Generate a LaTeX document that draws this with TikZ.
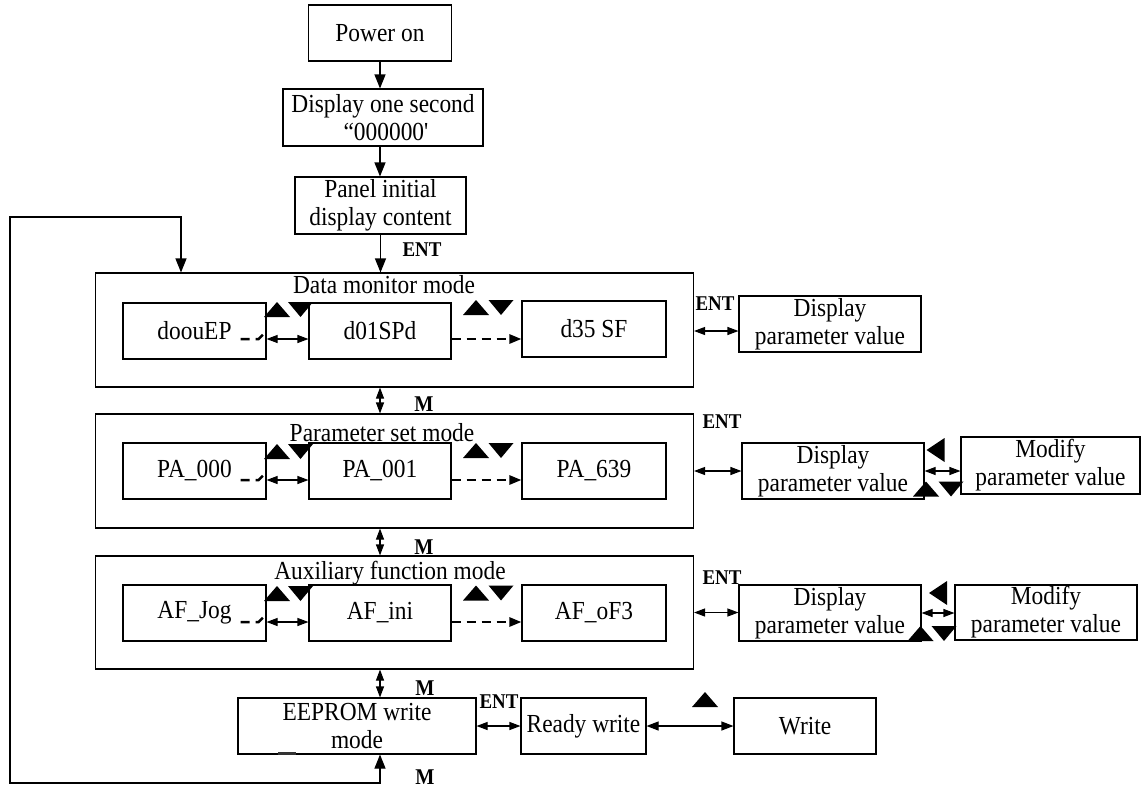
\documentclass[tikz,border=0pt]{standalone}
\usepackage{fontspec}
\setmainfont{Liberation Serif}[Ligatures=TeXOff,FakeStretch=0.9]
\usetikzlibrary{arrows.meta,calc}
\begin{document}
\begin{tikzpicture}[x=1pt,y=-1pt,line width=1.1pt,
  box/.style={draw,line width=1.1pt,inner sep=0pt,align=center,font=\fontsize{26}{28}\selectfont},
  txt/.style={inner sep=0pt,align=center,font=\fontsize{26}{28}\selectfont},
  lbl/.style={inner sep=0pt,font=\fontsize{21}{22}\selectfont\bfseries},
  mlbl/.style={inner sep=0pt,font=\fontsize{22.5}{22}\selectfont\bfseries},
  arr/.style={-{Triangle[length=14pt,width=11pt]}},
  lp/.style={{Triangle[length=14pt,width=11pt]}-{Triangle[length=14pt,width=11pt]}},
  darr/.style={{Triangle[length=11pt,width=8pt]}-{Triangle[length=11pt,width=8pt]}},
  marr/.style={{Triangle[length=11pt,width=8pt]}-{Triangle[length=11pt,width=8pt]}},
  dsh/.style={line width=2.5pt,dash pattern=on 9pt off 6pt},
  uptri/.pic={\fill (-13,7.5) -- (13,7.5) -- (0,-7.5) -- cycle;},
  dntri/.pic={\fill (-12.5,-7.5) -- (12.5,-7.5) -- (0,7.5) -- cycle;},
  lftri/.pic={\fill (9,-12) -- (9,12) -- (-9,0) -- cycle;}
]
\useasboundingbox (0,0) rectangle (1142,787);

% top chain
\node[box,minimum width=143pt,minimum height=56pt] (power) at (380,33) {Power on};
\node[box,minimum width=200pt,minimum height=57pt] (disp) at (383,117.5) {Display one second\\ \hspace*{6pt}“000000'};
\node[box,minimum width=171pt,minimum height=57pt] (panel) at (380.5,205.5) {Panel initial\\display content};

% data monitor mode
\node[box,minimum width=598pt,minimum height=114pt] (dm) at (394.5,330) {};
\node[txt] (dmt) at (384,285) {Data monitor mode};
\node[box,minimum width=143pt,minimum height=56pt] (a1) at (194.5,331) {doouEP};
\node[box,minimum width=142pt,minimum height=56pt] (a2) at (380,331) {d01SPd};
\node[box,minimum width=144pt,minimum height=56pt] (a3) at (594,329) {d35 SF};
\draw[dsh] ($(a1.east)+(-26,8)$) -- ($(a1.east)+(-8,8)$) -- ($(a1.east)+(-2,2)$);
\draw[darr] ($(a1.east)+(0,8)$) -- ($(a2.west)+(0,8)$);
\draw[dsh,-{Triangle[length=12pt,width=9pt]}] ($(a2.east)+(0,8)$) -- ($(a3.west |- a2.east)+(0,8)$);
\pic at (277,309.5) {uptri};
\pic at (300.5,309.5) {dntri};
\pic at (476,307.5) {uptri};
\pic at (501,307.5) {dntri};
\node[box,minimum width=182pt,minimum height=56pt] (dpv1) at (830,324) {Display\\parameter value};
\node[lbl] (ent1) at (715,304) {ENT};
\draw[darr] (dm.east |- a2.center) -- (dpv1.west |- a2.center);

% parameter set mode
\node[box,minimum width=598pt,minimum height=114pt] (ps) at (394.5,471) {};
\node[txt] (pst) at (382,433) {Parameter set mode};
\node[box,minimum width=143pt,minimum height=56pt] (p1) at (194.5,471) {PA\_000};
\node[box,minimum width=142pt,minimum height=56pt] (p2) at (380,471) {PA\_001};
\node[box,minimum width=144pt,minimum height=56pt] (p3) at (594,471) {PA\_639};
\draw[dsh] ($(p1.east)+(-26,9)$) -- ($(p1.east)+(-8,9)$) -- ($(p1.east)+(-2,3)$);
\draw[darr] ($(p1.east)+(0,9)$) -- ($(p2.west)+(0,9)$);
\draw[dsh,-{Triangle[length=12pt,width=9pt]}] ($(p2.east)+(0,9)$) -- ($(p3.west)+(0,9)$);
\pic at (277,451.5) {uptri};
\pic at (300.5,451.5) {dntri};
\pic at (476,450.5) {uptri};
\pic at (501,450.5) {dntri};
\node[box,minimum width=182pt,minimum height=56pt] (dpv2) at (833,471) {Display\\parameter value};
\node[box,minimum width=179pt,minimum height=57pt] (mod2) at (1050.5,465.5) {Modify\\parameter value};
\node[lbl] (ent2) at (722,422) {ENT};
\draw[darr] (ps.east) -- (dpv2.west);
\draw[darr] (dpv2.east) -- (mod2.west |- dpv2.east);
\pic at (935.5,450) {lftri};
\pic at (926,489) {uptri};
\pic at (951,489) {dntri};

% auxiliary function mode
\node[box,minimum width=598pt,minimum height=113pt] (aux) at (394.5,612.5) {};
\node[txt] (auxt) at (390,573) {Auxiliary function mode};
\node[box,minimum width=143pt,minimum height=56pt] (c1) at (194.5,613) {AF\_Jog};
\node[box,minimum width=142pt,minimum height=56pt] (c2) at (380,613) {AF\_ini};
\node[box,minimum width=144pt,minimum height=56pt] (c3) at (594,613) {AF\_oF3};
\draw[dsh] ($(c1.east)+(-26,9)$) -- ($(c1.east)+(-8,9)$) -- ($(c1.east)+(-2,3)$);
\draw[darr] ($(c1.east)+(0,9)$) -- ($(c2.west)+(0,9)$);
\draw[dsh,-{Triangle[length=12pt,width=9pt]}] ($(c2.east)+(0,9)$) -- ($(c3.west)+(0,9)$);
\pic at (277,593.5) {uptri};
\pic at (300.5,593.5) {dntri};
\pic at (476,593) {uptri};
\pic at (501,593) {dntri};
\node[box,minimum width=182pt,minimum height=56pt] (dpv3) at (830,613) {Display\\parameter value};
\node[box,minimum width=182pt,minimum height=55pt] (mod3) at (1046,612.5) {Modify\\parameter value};
\node[lbl] (ent3) at (722,578) {ENT};
\draw[darr] (aux.east) -- (dpv3.west |- aux.east);
\draw[darr] (dpv3.east) -- (mod3.west |- dpv3.east);
\pic at (938,593) {lftri};
\pic at (920.5,633.5) {uptri};
\pic at (944,633.5) {dntri};

% EEPROM row
\node[box,minimum width=238pt,minimum height=56pt] (ee) at (357,726) {EEPROM write\\mode};
\node[box,minimum width=125pt,minimum height=56pt] (ready) at (583.5,726) {Ready write};
\node[box,minimum width=142pt,minimum height=56pt] (write) at (805,726) {Write};
\node[lbl] (ent4) at (499,702) {ENT};
\draw[darr] (ee.east) -- (ready.west);
\draw[{Triangle[length=12pt,width=9pt]}-{Triangle[length=12pt,width=9pt]}] (ready.east) -- (write.west);
\pic at (705,699.5) {uptri};
\draw[line width=2.5pt,black!80] (278,753.5) -- (296,753.5);

% top arrows
\draw[arr] (power.south) -- (power.south |- disp.north);
\draw[arr] (power.south |- disp.south) -- (power.south |- panel.north);
\draw[arr] (panel.south) -- (panel.south |- dm.north);
\node[lbl] (ent0) at (422,250) {ENT};

% M arrows
\draw[marr] (a2.center |- dm.south) -- (a2.center |- ps.north);
\draw[marr] (p2.center |- ps.south) -- (p2.center |- aux.north);
\draw[marr] (c2.center |- aux.south) -- (c2.center |- ee.north);
\node[mlbl] (m1) at (424,404) {M};
\node[mlbl] (m2) at (424,547) {M};
\node[mlbl] (m3) at (425,688) {M};
\node[mlbl] (m4) at (425,777) {M};

% loop
\coordinate (l1) at (380,783);
\coordinate (l2) at (10,783);
\coordinate (l3) at (10,217);
\coordinate (l4) at (181,217);
\draw[lp] (ee.south -| a2.center) -- (l1) -- (l2) -- (l3) -- (l4) -- (l4 |- dm.north);
\end{tikzpicture}
\end{document}
